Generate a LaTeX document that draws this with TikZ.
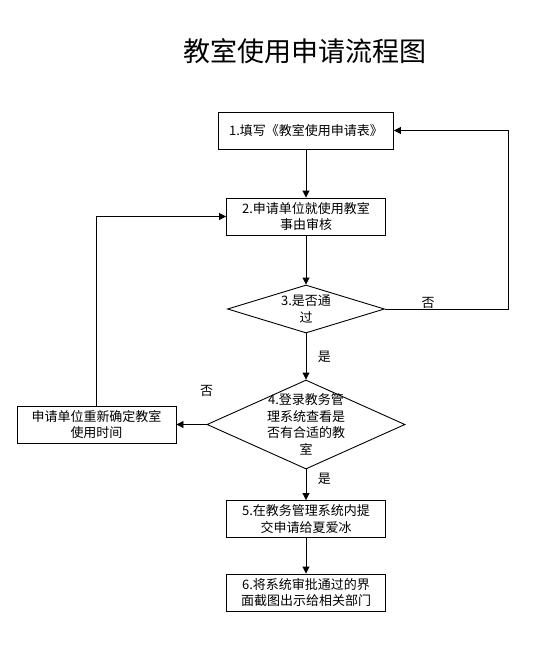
\documentclass[tikz,border=0pt]{standalone}
\usepackage{fontspec}
\setmainfont{Noto Sans CJK SC}
\usetikzlibrary{arrows.meta,positioning,shapes.geometric}

\begin{document}
\begin{tikzpicture}[x=1pt,y=-1pt,>={Triangle[length=7pt,width=7pt]},line width=0.9pt,
  every node/.style={font=\fontsize{13}{16.5}\selectfont},
  stepbox/.style={draw,minimum width=159pt,minimum height=37pt,align=center,inner sep=2pt},
  decision/.style={draw,diamond,inner sep=0pt}]
\useasboundingbox (0,0) rectangle (554,646);
\node[font=\fontsize{27}{31}\selectfont] (title) at (305,51) {教室使用申请流程图};
\node[stepbox,minimum width=175pt] (fill) at (306,130.5) {1.填写《教室使用申请表》};
\node[stepbox] (review) at (306,216.5) {2.申请单位就使用教室\\事由审核};
\node[decision,minimum width=157pt,minimum height=48pt,label={[align=center]center:3.是否通\\过}] (pass) at (306,309) {};
\node[decision,minimum width=198pt,minimum height=89pt,label={[align=center]center:4.登录教务管\\理系统查看是\\否有合适的教\\室}] (check) at (306,424.5) {};
\node[stepbox] (back) at (96.5,424.5) {申请单位重新确定教室\\使用时间};
\node[stepbox] (submit) at (306,519) {5.在教务管理系统内提\\交申请给夏爱冰};
\node[stepbox] (show) at (306,592.5) {6.将系统审批通过的界\\面截图出示给相关部门};
\node[above=24pt of check.west] (no2) {否};
\coordinate (rt) at (508,309);
\draw[->] (fill) -- (review); \draw[->] (review) -- (pass);
\draw[->] (pass) -- node[right=8pt] {是} (check);
\draw[->] (pass.east) -- node[pos=.35,above,inner sep=0pt] {否} (rt) |- (fill.east);
\draw[->] (check.west) -- (back.east); \draw[->] (back.north) |- (review.west);
\draw[->] (check) -- node[pos=.3,right=8pt] {是} (submit);
\draw[->] (submit) -- (show);
\end{tikzpicture}
\end{document}
